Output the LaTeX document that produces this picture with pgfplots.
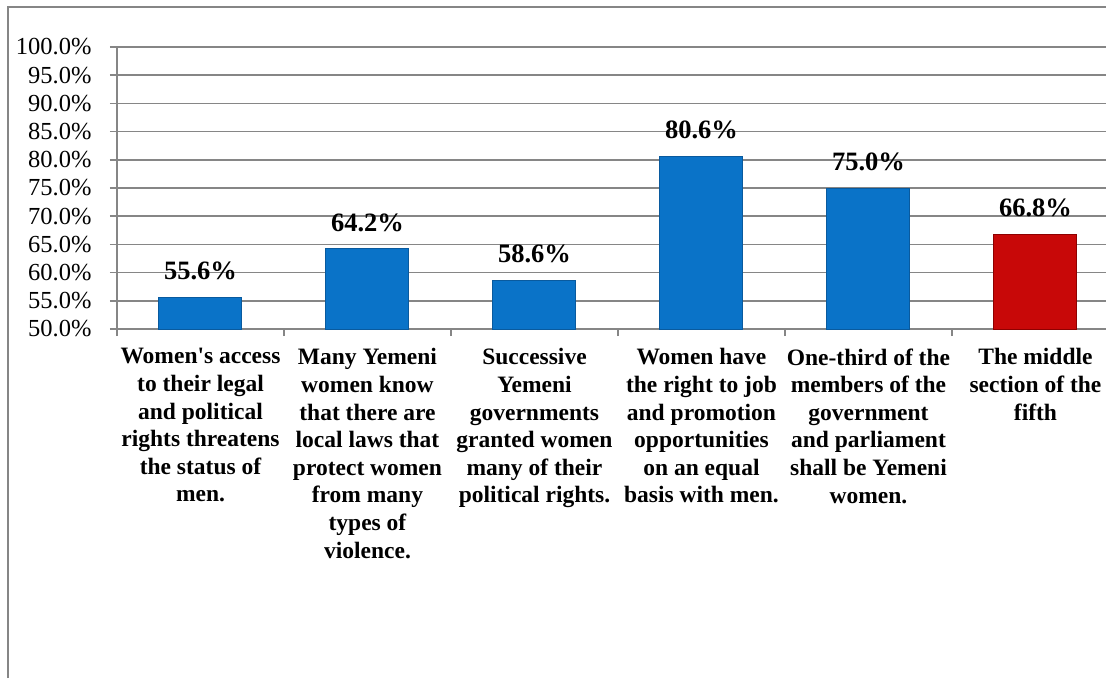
\documentclass[border=0pt]{standalone}
\usepackage{fontspec}
\setmainfont{Liberation Serif}[Ligatures=TeXOff]
\usepackage{pgfplots}
\usepackage{pgfplotstable}
\pgfplotsset{compat=1.18}
\definecolor{gridgray}{HTML}{868686}
\definecolor{barblue}{HTML}{0A73C8}
\definecolor{barblueedge}{HTML}{095A9E}
\definecolor{barred}{HTML}{C80808}
\definecolor{barrededge}{HTML}{8E0000}

\pgfplotstableread{
x y
0 55.6
1 64.2
2 58.6
3 80.6
4 75.0
}\bluedata
\pgfplotstableread{
x y
5 66.8
}\reddata

\begin{document}
\begin{tikzpicture}[x=1pt,y=1pt]
\useasboundingbox (0,0) rectangle (1106,678);
\fill[white] (0,0) rectangle (1106,678);
\draw[gridgray, line width=1.5pt] (8,0) -- (8,671) -- (1106,671);
\begin{axis}[
  at={(117pt,349pt)}, anchor=south west,
  scale only axis, width=1002pt, height=282pt,
  xmin=-0.5, xmax=5.5, ymin=50, ymax=100,
  axis lines*=left,
  axis line style={-, gridgray, line width=1.5pt},
  tick align=outside,
  major tick length=7pt,
  tick style={gridgray, line width=1.5pt},
  ymajorgrids,
  grid style={gridgray, line width=1.6pt},
  ytick={50,55,60,65,70,75,80,85,90,95,100},
  /pgf/number format/assume math mode=true,
  yticklabel={\pgfmathprintnumber[fixed,fixed zerofill,precision=1]{\tick}\%},
  yticklabel style={font=\fontsize{24.5}{27}\selectfont, text=black, xshift=-15pt},
  xtick={-0.5,0.5,1.5,2.5,3.5,4.5,5.5},
  x tick label as interval,
  xticklabels={
    {Women's access\\to their legal\\and political\\rights threatens\\the status of\\men.},
    {Many Yemeni\\women know\\that there are\\local laws that\\protect women\\from many\\types of\\violence.},
    {Successive\\Yemeni\\governments\\granted women\\many of their\\political rights.},
    {Women have\\the right to job\\and promotion\\opportunities\\on an equal\\basis with men.},
    {One-third of the\\members of the\\government\\and parliament\\shall be Yemeni\\women.},
    {The middle\\section of the\\fifth}
  },
  xticklabel style={font=\fontsize{23.5}{27.6}\selectfont\bfseries, align=center, text=black, yshift=-9pt},
  ybar, bar width=83pt, bar shift=0pt,
  clip mode=individual,
  nodes near coords={\pgfmathprintnumber[fixed,fixed zerofill,precision=1]{\pgfplotspointmeta}\%},
  every node near coord/.append style={font=\fontsize{26.5}{30}\selectfont\bfseries, text=black, inner sep=0pt, anchor=south, yshift=17pt},
]
\addplot[fill=barblue, draw=barblueedge, line width=1pt] table[x=x,y=y] {\bluedata};
\addplot[fill=barred, draw=barrededge, line width=1pt] table[x=x,y=y] {\reddata};
\end{axis}
\end{tikzpicture}
\end{document}
